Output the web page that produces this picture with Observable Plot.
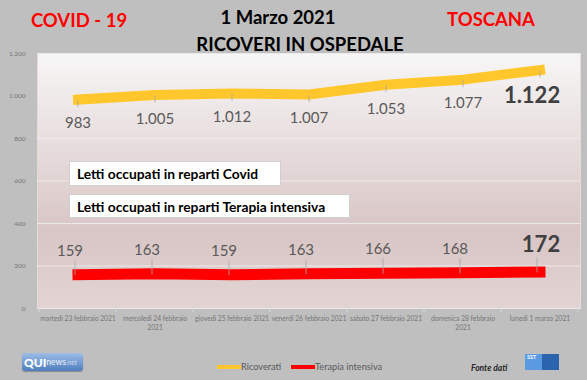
<!DOCTYPE html>
<html><head><meta charset="utf-8">
<script src="https://cdn.jsdelivr.net/npm/d3@7"></script>
<script src="https://cdn.jsdelivr.net/npm/@observablehq/plot@0.6"></script>
<style>
body{margin:0;background:#bfbfbf;}
#wrap{position:relative;width:587px;height:380px;background:#bfbfbf;font-family:Lato,sans-serif;overflow:hidden}
#chart{position:absolute;left:0;top:0}
.t{position:absolute;font-weight:bold;white-space:nowrap;line-height:1;transform:translate(-50%,-50%);font-size:18.5px}
.box{position:absolute;background:#fff;border:1px solid #d0d0d0;box-sizing:border-box;font-weight:bold;font-size:13.8px;color:#000;padding-left:7px;display:flex;align-items:center;white-space:nowrap}
.leg{position:absolute;font-size:9.2px;color:#595959;line-height:1;white-space:nowrap;transform:translateY(-50%)}
.sw{position:absolute;height:4px;transform:translateY(-50%)}
</style></head><body><div id="wrap">
<div id="chart"></div>
<div class="t" style="left:79px;top:20px;color:#ff0000">COVID - 19</div>
<div class="t" style="left:278px;top:17px;color:#000">1 Marzo 2021</div>
<div class="t" style="left:491px;top:19px;color:#ff0000">TOSCANA</div>
<div class="t" style="left:300px;top:44px;color:#000">RICOVERI IN OSPEDALE</div>
<div class="box" style="left:69px;top:161px;width:212px;height:25px">Letti occupati in reparti Covid</div>
<div class="box" style="left:69px;top:194px;width:281px;height:24px">Letti occupati in reparti Terapia intensiva</div>
<div class="sw" style="left:217px;top:367px;width:24px;background:#ffc72c"></div>
<div class="leg" style="left:241px;top:367px">Ricoverati</div>
<div class="sw" style="left:291px;top:367px;width:24px;background:#ff0000"></div>
<div class="leg" style="left:315px;top:367px">Terapia intensiva</div>
<div class="leg" style="left:471px;top:368px;font-size:8.5px;font-style:italic;font-weight:bold;color:#262626">Fonte dati</div>
<div style="position:absolute;left:22px;top:353px;width:61px;height:18px;border-radius:3px;background:linear-gradient(#9dbde6,#4f7fbf);box-shadow:0 1px 1px #888;color:#fff;font-family:Lato;display:flex;align-items:center;padding-left:2px;box-sizing:border-box"><span style="font-weight:900;font-size:12px">QUI</span><span style="font-size:8.5px;color:#eef2f9">news</span><span style="font-size:7px;font-style:italic;color:#cdd8ea">.net</span></div>
<div style="position:absolute;left:525px;top:354px;width:34px;height:16px;background:linear-gradient(90deg,#5a9ae0 0 50%,#2a64ad 50%);color:#fff;font-size:5.5px;font-weight:bold;font-family:Lato;padding:1px 2px;box-sizing:border-box;line-height:1">SST</div>
</div>
<script>
const days = ["2021-02-23","2021-02-24","2021-02-25","2021-02-26","2021-02-27","2021-02-28","2021-03-01"];
const dayLabels = ["martedì 23 febbraio 2021","mercoledì 24 febbraio\n2021","giovedì 25 febbraio 2021","venerdì 26 febbraio 2021","sabato 27 febbraio 2021","domenica 28 febbraio\n2021","lunedì 1 marzo 2021"];
const ricoverati = [983,1005,1012,1007,1053,1077,1122];
const terapiaIntensiva = [159,163,159,163,166,168,172];
const yTicks = [0,200,400,600,800,1000,1200];

const fmt = d3.formatLocale({decimal:",",thousands:".",grouping:[3],currency:["€",""]}).format(",d");
const rows = days.map((d,i)=>({day:d, ric:ricoverati[i], ti:terapiaIntensiva[i], last:i===days.length-1}));
const notLast = rows.filter(r=>!r.last), last = rows.filter(r=>r.last);

const chart = Plot.plot({
  width:587, height:380,
  marginTop:53, marginBottom:72, marginLeft:37, marginRight:7,
  style:{background:"transparent", fontFamily:"Lato, sans-serif", fontSize:"6.7px", color:"#767676", overflow:"visible"},
  x:{type:"band", domain:days, padding:0},
  y:{domain:[0,1200]},
  marks:[
    Plot.frame({fill:"url(#bg)", stroke:"#e4dada"}),
    Plot.gridY({ticks:yTicks, stroke:"#eeeaea", strokeOpacity:1}),
    Plot.axisY({ticks:yTicks, tickFormat:fmt, tickSize:0, tickPadding:12, fontSize:6.5, label:null}),
    Plot.axisX({tickSize:0, tickPadding:6, tickFormat:d=>dayLabels[days.indexOf(d)], lineHeight:1.35, label:null}),
    Plot.line(rows,{x:"day", y:"ric", stroke:"#ffc72c", strokeWidth:10, strokeLinecap:"square", strokeLinejoin:"round"}),
    Plot.line(rows,{x:"day", y:"ti", stroke:"#ff0000", strokeWidth:11, strokeLinecap:"square", strokeLinejoin:"round"}),
    Plot.ruleX(rows,{x:"day", y1:"ric", y2:"ric", insetTop:1, insetBottom:-8, stroke:"#a6a6a6", strokeWidth:0.8}),
    Plot.ruleX(rows,{x:"day", y1:"ti", y2:"ti", insetTop:-14, insetBottom:-1, dx:-3, stroke:"#a6a6a6", strokeWidth:0.8}),
    Plot.text(notLast,{x:"day", y:"ric", text:d=>fmt(d.ric), dy:24, fontSize:15, fill:"#595959"}),
    Plot.text(last,{x:"day", y:"ric", text:d=>fmt(d.ric), dy:26, dx:-8, fontSize:22, fontWeight:"bold", fill:"#404040"}),
    Plot.text(notLast,{x:"day", y:"ti", text:d=>fmt(d.ti), dy:-24, dx:-8, fontSize:15, fill:"#595959"}),
    Plot.text(last,{x:"day", y:"ti", text:d=>fmt(d.ti), dy:-27, dx:1, fontSize:22, fontWeight:"bold", fill:"#404040"})
  ]
});

const svg = d3.select(chart);
const grad = svg.insert("defs",":first-child").append("linearGradient").attr("id","bg").attr("x1",0).attr("y1",0).attr("x2",0).attr("y2",1);
[[0,"#f7f6f6"],[0.7,"#d9c5c5"],[1,"#e2d4d4"]].forEach(([o,c])=>grad.append("stop").attr("offset",o).attr("stop-color",c));

const xs = chart.scale("x"), ys = chart.scale("y");
const bounds = days.map(d=>xs.apply(d)).concat([xs.apply(days[days.length-1])+xs.bandwidth]);
const y0 = ys.apply(0);
svg.append("g").selectAll("line").data(bounds).join("line")
  .attr("x1",d=>d).attr("x2",d=>d).attr("y1",y0).attr("y2",y0+4).attr("stroke","#d9d9d9");

document.getElementById("chart").appendChild(chart);
</script>
</body></html>
